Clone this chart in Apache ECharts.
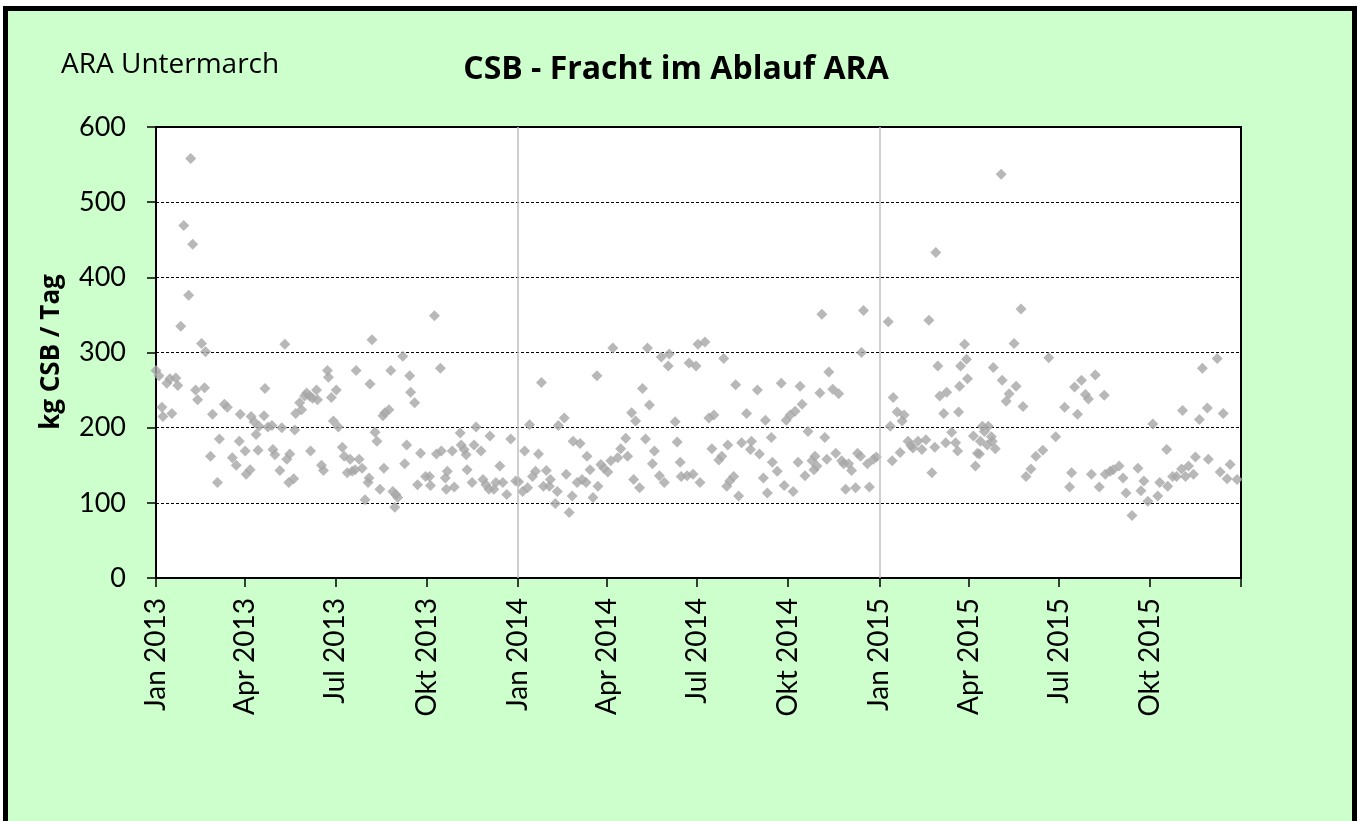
<!DOCTYPE html>
<html>
<head>
<meta charset="utf-8">
<title>CSB - Fracht im Ablauf ARA</title>
<script src="https://cdn.jsdelivr.net/npm/echarts@6/dist/echarts.min.js"></script>
<style>
html, body { margin: 0; padding: 0; background: #fff; overflow: hidden; }
#frame { position: absolute; left: 3px; top: 6px; width: 1344px; height: 900px; border: 5px solid #000; background: #ccffcc; }
#main { position: absolute; left: 0; top: 0; width: 1361px; height: 821px; }
</style>
</head>
<body>
<div id="frame"></div>
<div id="main"></div>
<script>
// Tag im Jahr (0 = 1. Januar) und Fracht in kg CSB / Tag
var days2013 = [0, 3, 6, 7, 11, 14, 16, 20, 22, 25, 28, 33, 35, 37, 40, 42, 46, 49, 50, 55,
    57, 62, 64, 69, 72, 77, 81, 84, 85, 90, 91, 95, 96, 99, 101, 103, 104, 109, 110, 113,
    117, 118, 120, 125, 127, 130, 132, 134, 135, 139, 140, 141, 145, 147, 150, 152, 155, 156, 158, 162,
    163, 167, 169, 173, 174, 177, 179, 182, 184, 188, 190, 193, 196, 198, 201, 202, 205, 208, 211, 214,
    215, 216, 218, 221, 223, 226, 229, 230, 231, 235, 237, 239, 241, 242, 244, 249, 251, 253, 256, 257,
    261, 264, 267, 272, 276, 277, 281, 283, 287, 288, 292, 293, 294, 299, 301, 307, 308, 311, 313, 314,
    319, 321, 323, 328, 330, 333, 336, 337, 341, 343, 347, 350, 354, 358, 363];
var values2013 = [276, 269, 227, 215, 259, 265, 219, 266, 256, 335, 469, 376, 558, 444, 250, 237, 312, 253, 301, 162,
    218, 127, 185, 231, 227, 160, 150, 182, 218, 169, 138, 144, 215, 208, 191, 170, 202, 216, 252, 201,
    203, 171, 164, 143, 200, 311, 158, 127, 165, 132, 197, 219, 233, 224, 242, 246, 242, 169, 239, 250,
    237, 150, 143, 276, 267, 240, 209, 250, 201, 174, 162, 140, 158, 142, 144, 276, 158, 146, 104, 127,
    133, 258, 317, 194, 182, 118, 216, 146, 220, 224, 276, 115, 94, 111, 107, 295, 152, 177, 269, 247,
    233, 124, 166, 135, 135, 123, 349, 165, 279, 169, 133, 118, 142, 169, 121, 193, 177, 171, 164, 144,
    127, 177, 201, 169, 131, 124, 118, 189, 118, 127, 149, 127, 111, 185, 129];

var days2014 = [1, 5, 7, 10, 12, 15, 18, 21, 24, 26, 29, 32, 33, 38, 40, 41, 47, 49, 52, 55,
    56, 60, 63, 65, 69, 70, 73, 76, 80, 81, 84, 87, 91, 94, 96, 101, 104, 109, 111, 115,
    117, 119, 123, 126, 129, 131, 133, 136, 138, 143, 145, 148, 152, 153, 159, 161, 164, 165, 171, 173,
    177, 180, 182, 184, 189, 193, 196, 198, 203, 206, 208, 211, 212, 214, 218, 220, 223, 226, 231, 235,
    236, 242, 244, 248, 250, 252, 256, 257, 262, 266, 269, 271, 275, 278, 280, 283, 285, 287, 290, 293,
    297, 299, 300, 302, 305, 307, 310, 312, 314, 318, 321, 324, 327, 329, 331, 334, 337, 341, 343, 346,
    347, 349, 353, 355, 359, 362];
var values2014 = [128, 115, 169, 120, 204, 135, 142, 165, 260, 122, 143, 122, 131, 99, 115, 203, 213, 138, 87, 109,
    182, 127, 179, 131, 127, 162, 144, 107, 269, 122, 151, 146, 141, 156, 306, 160, 172, 186, 162, 220,
    131, 209, 120, 252, 185, 306, 230, 152, 169, 136, 294, 127, 282, 298, 208, 181, 154, 135, 136, 286,
    138, 282, 311, 127, 314, 213, 172, 217, 157, 162, 292, 122, 177, 129, 135, 257, 109, 180, 219, 171,
    182, 250, 165, 133, 210, 113, 187, 154, 142, 259, 123, 210, 217, 115, 222, 154, 255, 231, 136, 195,
    156, 144, 162, 149, 246, 351, 187, 158, 274, 251, 166, 245, 156, 152, 118, 152, 143, 120, 166, 162,
    300, 356, 152, 121, 158, 161];

var days2015 = [9, 11, 13, 14, 18, 21, 23, 25, 29, 32, 34, 39, 43, 47, 50, 53, 56, 57, 59, 61,
    65, 67, 68, 73, 77, 79, 80, 81, 82, 86, 88, 89, 95, 97, 99, 101, 102, 104, 106, 109,
    110, 113, 114, 115, 117, 123, 124, 128, 131, 136, 138, 143, 145, 148, 153, 158, 165, 171, 178, 187,
    192, 194, 197, 200, 204, 208, 211, 214, 218, 222, 227, 228, 233, 236, 242, 246, 249, 255, 261, 264,
    267, 271, 276, 281, 283, 290, 291, 296, 300, 305, 306, 309, 312, 317, 319, 323, 326, 331, 332, 341,
    344, 347, 351, 354, 361];
var values2015 = [341, 202, 156, 240, 221, 167, 209, 217, 182, 176, 173, 182, 171, 184, 343, 140, 174, 433, 282, 242,
    219, 180, 247, 194, 180, 169, 221, 255, 282, 311, 291, 265, 189, 149, 166, 165, 182, 202, 195, 177,
    202, 188, 182, 280, 172, 537, 263, 235, 245, 312, 255, 358, 228, 135, 145, 162, 170, 293, 188, 227,
    121, 140, 254, 218, 263, 244, 238, 138, 270, 121, 243, 138, 142, 144, 149, 133, 113, 83, 146, 116,
    129, 102, 205, 109, 127, 171, 122, 135, 135, 145, 223, 135, 149, 138, 161, 211, 279, 226, 158, 292,
    141, 219, 132, 151, 131];

// Achsenbeschriftung (Quartale)
var tickDates = ['2013-01-01', '2013-04-01', '2013-07-01', '2013-10-01', '2014-01-01', '2014-04-01',
    '2014-07-01', '2014-10-01', '2015-01-01', '2015-04-01', '2015-07-01', '2015-10-01'];
var tickLabels = ['Jan 2013', 'Apr 2013', 'Jul 2013', 'Okt 2013', 'Jan 2014', 'Apr 2014',
    'Jul 2014', 'Okt 2014', 'Jan 2015', 'Apr 2015', 'Jul 2015', 'Okt 2015'];
var yearLines = ['2014-01-01', '2015-01-01'];

var DAY = 86400000;
function toTime (s) {
    return new Date(s + 'T00:00:00Z').getTime();
}
function yearData (year, days, values) {
    var start = Date.UTC(year, 0, 1);
    return days.map(function (d, i) {
        return [start + d * DAY, values[i]];
    });
}

var data = [].concat(
    yearData(2013, days2013, values2013),
    yearData(2014, days2014, values2014),
    yearData(2015, days2015, values2015)
);

var tickTimes = tickDates.map(toTime);
var xMin = toTime('2013-01-01');
var xMax = toTime('2016-01-01');

var chart = echarts.init(document.getElementById('main'), null, {renderer: 'canvas'});

var option = {
    backgroundColor: 'transparent',
    animation: false,
    textStyle: {fontFamily: 'Lato'},
    grid: {
        left: 156,
        right: 120,
        top: 127,
        bottom: 243,
        show: true,
        backgroundColor: '#ffffff',
        borderColor: '#000000',
        borderWidth: 2
    },
    graphic: [
        {
            type: 'text',
            left: 61,
            top: 51,
            style: {
                text: 'ARA Untermarch',
                font: '28px "Open Sans"',
                fill: '#000'
            }
        },
        {
            type: 'text',
            x: 676,
            y: 70,
            style: {
                text: 'CSB - Fracht im Ablauf ARA',
                font: 'bold 32px "Open Sans"',
                fill: '#000',
                align: 'center',
                verticalAlign: 'middle'
            }
        },
        {
            type: 'text',
            x: 52,
            y: 352,
            rotation: Math.PI / 2,
            style: {
                text: 'kg CSB / Tag',
                font: 'bold 26px "Open Sans"',
                fill: '#000',
                align: 'center',
                verticalAlign: 'middle'
            }
        }
    ],
    xAxis: {
        type: 'value',
        min: xMin,
        max: xMax,
        axisLine: {show: true, lineStyle: {color: '#000', width: 2}},
        axisTick: {
            show: true,
            length: 9,
            lineStyle: {color: '#000', width: 1.5},
            customValues: tickTimes.concat([xMax])
        },
        axisLabel: {
            customValues: tickTimes,
            rotate: 90,
            margin: 20,
            fontSize: 28,
            fontFamily: 'Lato',
            color: '#000',
            formatter: function (value) {
                var i = tickTimes.indexOf(value);
                return i >= 0 ? tickLabels[i] : '';
            }
        },
        splitLine: {show: false}
    },
    yAxis: {
        type: 'value',
        min: 0,
        max: 600,
        interval: 100,
        axisLine: {show: true, lineStyle: {color: '#000', width: 2}},
        axisTick: {show: true, length: 9, lineStyle: {color: '#000', width: 1.5}},
        axisLabel: {margin: 30, fontSize: 27, fontFamily: 'Lato', color: '#000'},
        splitLine: {show: true, lineStyle: {color: '#000', width: 1, type: [3, 2]}}
    },
    series: [
        {
            name: 'CSB-Fracht',
            type: 'scatter',
            symbol: 'diamond',
            symbolSize: [11, 11],
            itemStyle: {color: '#a6a6a6'},
            data: data,
            markLine: {
                silent: true,
                symbol: ['none', 'none'],
                label: {show: false},
                lineStyle: {color: '#bfbfbf', width: 1.5, type: 'solid'},
                data: yearLines.map(function (d) {
                    return {xAxis: toTime(d)};
                })
            }
        }
    ]
};

chart.setOption(option);
</script>
</body>
</html>
